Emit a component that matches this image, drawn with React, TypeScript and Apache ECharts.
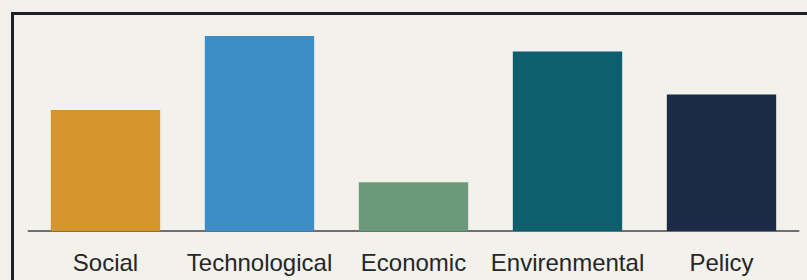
import React, { useEffect, useRef } from "react";
import * as echarts from "echarts";

const categories = ["Social", "Technological", "Economic", "Envirenmental", "Pelicy"];
const values = [62, 100, 25, 92, 70];
const barColors = ["#d4952d", "#3d8ec6", "#6b9a7a", "#0e5f6e", "#1b2b47"];

export default function App() {
  const ref = useRef<HTMLDivElement>(null);
  useEffect(() => {
    if (!ref.current) return;
    const chart = echarts.init(ref.current, null, { renderer: "svg" });
    chart.setOption({
      animation: false,
      backgroundColor: "#f2f1ec",
      graphic: [
        {
          type: "rect",
          shape: { x: 12.5, y: 13.5, width: 820, height: 320 },
          style: { fill: "none", stroke: "#1e2227", lineWidth: 3 },
          silent: true,
        },
      ],
      grid: { left: 28.5, right: 8.5, top: 36, bottom: 49, containLabel: false },
      xAxis: {
        type: "category",
        data: categories,
        axisLine: { lineStyle: { color: "#6f6f6f", width: 2 } },
        axisTick: { show: false },
        axisLabel: {
          color: "#262626",
          fontSize: 24,
          fontFamily: "Liberation Sans, Arial, sans-serif",
          margin: 19,
          interval: 0,
        },
      },
      yAxis: {
        type: "value",
        min: 0,
        max: 100,
        show: false,
        splitLine: { show: false },
      },
      series: [
        {
          type: "bar",
          data: values.map((v, i) => ({ value: v, itemStyle: { color: barColors[i] } })),
          barWidth: "71%",
        },
      ],
    });
    return () => chart.dispose();
  }, []);
  return (
    <div
      ref={ref}
      style={{ position: "absolute", left: 0, top: 0, width: 807, height: 280 }}
    />
  );
}
